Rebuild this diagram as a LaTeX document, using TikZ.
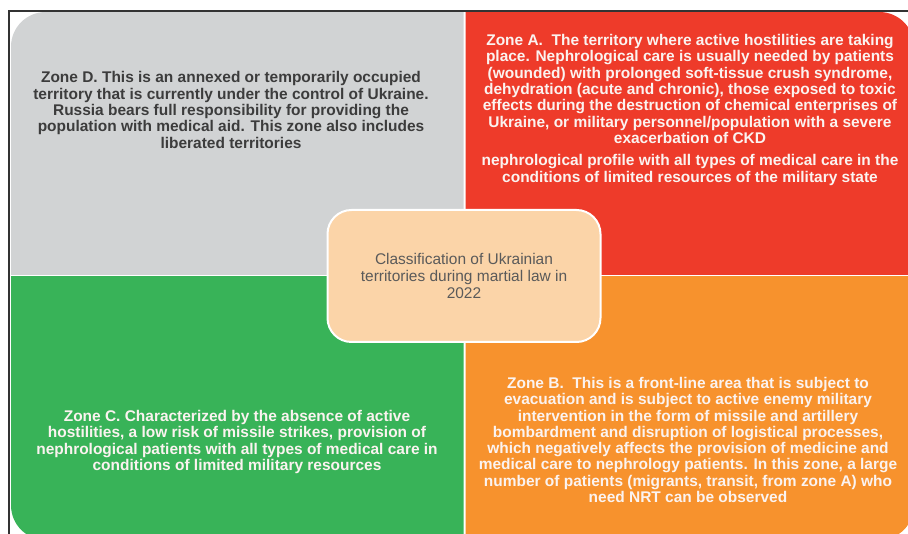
\documentclass[tikz,border=0pt]{standalone}
\usepackage{fontspec}
\setmainfont{Liberation Sans}
\definecolor{zoneD}{HTML}{D1D3D4}
\definecolor{zoneA}{HTML}{EE3B2A}
\definecolor{zoneB}{HTML}{F7922D}
\definecolor{zoneC}{HTML}{38B358}
\definecolor{peach}{HTML}{FBD4A8}
\definecolor{darktext}{HTML}{3C3C3C}
\definecolor{graytext}{HTML}{5A5A5A}
\definecolor{lighttext}{HTML}{FBF3F0}
\definecolor{framecol}{HTML}{333333}
\begin{document}
\begin{tikzpicture}[x=0.75pt,y=-0.75pt,
  zonetext/.style={font=\bfseries\fontsize{11.6}{12.2}\selectfont, align=center, inner sep=0pt},
  darkzone/.style={zonetext, text=darktext},
  lightzone/.style={zonetext, text=lighttext},
  centerbox/.style={fill=peach, draw=white, line width=1.5pt, rounded corners=18pt,
    minimum width=204.75pt, minimum height=99pt, align=center, text=graytext,
    font=\fontsize{11.6}{12.8}\selectfont},
  framestyle/.style={draw=framecol, line width=0.8pt}]
\useasboundingbox (0,0) rectangle (908,534);
\fill[white] (0,0) rectangle (908,534);
\begin{scope}
  \clip (0,0) rectangle (908,534);
  \begin{scope}
    \clip (11,12) rectangle (463.5,274.6);
    \fill[zoneD, rounded corners=26pt] (11,12) rectangle (700,600);
  \end{scope}
  \begin{scope}
    \clip (465.5,12) rectangle (914,274.6);
    \fill[zoneA, rounded corners=26pt] (200,12) rectangle (914,600);
  \end{scope}
  \begin{scope}
    \clip (11,276.6) rectangle (463.5,540);
    \fill[zoneC, rounded corners=26pt] (11,0) rectangle (700,540);
  \end{scope}
  \begin{scope}
    \clip (465.5,276.6) rectangle (914,540);
    \fill[zoneB, rounded corners=26pt] (200,0) rectangle (914,540);
  \end{scope}
\end{scope}
\draw[framestyle] (9,534) -- (9,11) -- (908,11);

\node[centerbox] (title) at (464,276) {Classification of Ukrainian\\territories during martial law in\\2022};

\node[darkzone] (zD) at (231,110) {Zone D. This is an annexed or temporarily occupied\\territory that is currently under the control of Ukraine.\\Russia bears full responsibility for providing the\\population with medical aid. This zone also includes\\liberated territories};

\node[lightzone] (zA) at (690,89) {Zone A.\ \ The territory where active hostilities are taking\\place. Nephrological care is usually needed by patients\\(wounded) with prolonged soft-tissue crush syndrome,\\dehydration (acute and chronic), those exposed to toxic\\effects during the destruction of chemical enterprises of\\Ukraine, or military personnel/population with a severe\\exacerbation of CKD};

\node[lightzone] (zA2) at (690,170) {nephrological profile with all types of medical care in the\\conditions of limited resources of the military state};

\node[lightzone] (zC) at (237,442) {Zone C. Characterized by the absence of active\\hostilities, a low risk of missile strikes, provision of\\nephrological patients with all types of medical care in\\conditions of limited military resources};

\node[lightzone] (zB) at (688,440) {Zone B.\ \ This is a front-line area that is subject to\\evacuation and is subject to active enemy military\\intervention in the form of missile and artillery\\bombardment and disruption of logistical processes,\\which negatively affects the provision of medicine and\\medical care to nephrology patients. In this zone, a large\\number of patients (migrants, transit, from zone A) who\\need NRT can be observed};
\end{tikzpicture}
\end{document}
